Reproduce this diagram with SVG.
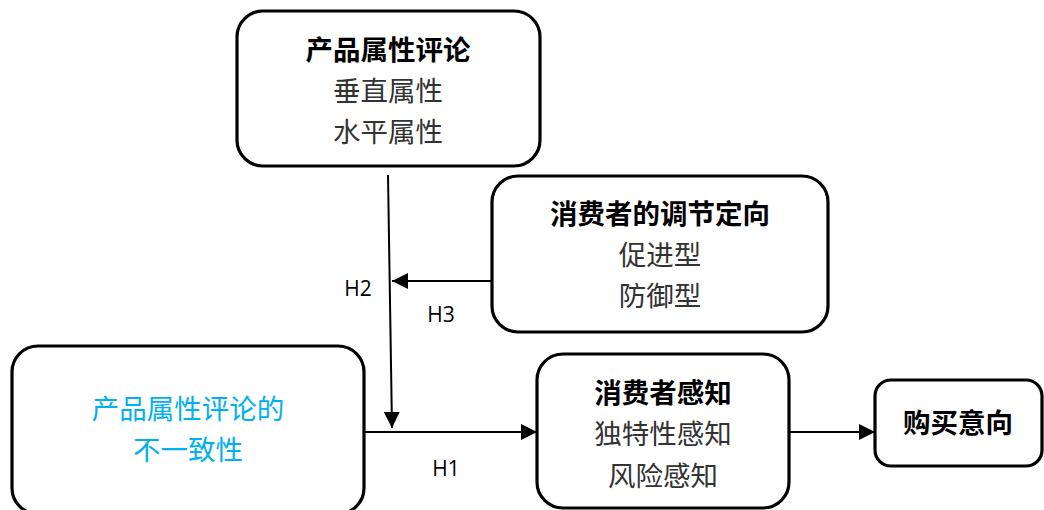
<svg xmlns="http://www.w3.org/2000/svg" width="1044" height="510" viewBox="0 0 1044 510">
<style>
.box{fill:#fff;stroke:#000;stroke-width:3.2}
.t{font-family:"Noto Sans CJK SC",sans-serif;font-size:27.5px;text-anchor:middle}
.b{font-weight:bold;fill:#000}
.s{fill:#333}
.blue{fill:#00B0F0}
.h{font-family:"Open Sans","Liberation Sans",sans-serif;font-size:21px;fill:#000;text-anchor:middle}
.c{stroke:#000;stroke-width:2;fill:none}
</style>
<defs>
<marker id="a2" viewBox="0 0 10 10" refX="10" refY="5" markerWidth="16" markerHeight="16" markerUnits="userSpaceOnUse" orient="auto">
<path d="M0,0L10,5L0,10z" fill="#000"/>
</marker>
</defs>
<g id="connectors">
<line class="c" x1="388" y1="175" x2="392" y2="428" marker-end="url(#a2)"/>
<line class="c" x1="492" y1="281" x2="392" y2="281" marker-end="url(#a2)"/>
<line class="c" x1="364" y1="432" x2="537" y2="432" marker-end="url(#a2)"/>
<line class="c" x1="789" y1="432" x2="875" y2="432" marker-end="url(#a2)"/>
<text class="h" x="358" y="296">H2</text>
<text class="h" x="441" y="322">H3</text>
<text class="h" x="446" y="476">H1</text>
</g>
<g id="n1">
<rect class="box" x="237" y="11" width="303" height="155" rx="26"/>
<text class="t b" x="388" y="60">产品属性评论</text>
<text class="t s" x="388" y="101">垂直属性</text>
<text class="t s" x="388" y="142">水平属性</text>
</g>
<g id="n2">
<rect class="box" x="492" y="176" width="336" height="156" rx="26"/>
<text class="t b" x="660" y="224">消费者的调节定向</text>
<text class="t s" x="660" y="265">促进型</text>
<text class="t s" x="660" y="306">防御型</text>
</g>
<g id="n3">
<rect class="box" x="12" y="346" width="352" height="168" rx="26"/>
<text class="t blue" x="188" y="419">产品属性评论的</text>
<text class="t blue" x="188" y="460">不一致性</text>
</g>
<g id="n4">
<rect class="box" x="537" y="354" width="252" height="154" rx="26"/>
<text class="t b" x="663" y="403">消费者感知</text>
<text class="t s" x="663" y="444">独特性感知</text>
<text class="t s" x="663" y="486">风险感知</text>
</g>
<g id="n5">
<rect class="box" x="875" y="380" width="167" height="86" rx="16"/>
<text class="t b" x="958" y="433">购买意向</text>
</g>
</svg>
